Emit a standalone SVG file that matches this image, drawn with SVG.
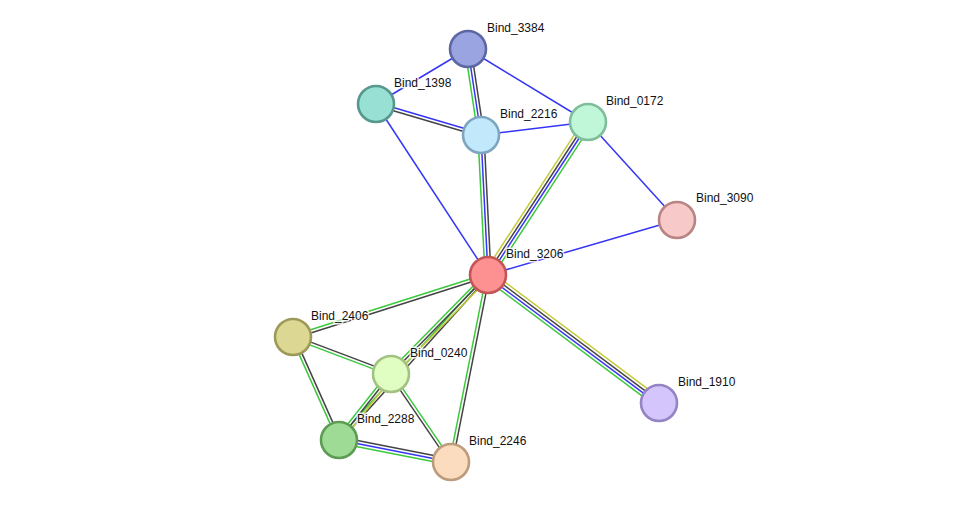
<svg xmlns="http://www.w3.org/2000/svg" width="975" height="508" viewBox="0 0 975 508">
<style>
line{stroke-width:1.5;fill:none}
.b{stroke:#3535f5}
.g{stroke:#3cc83c}
.k{stroke:#444444}
.y{stroke:#c4ca3a}
circle{stroke-width:2.6}
text{font-family:"Liberation Sans",Arial,sans-serif;font-size:12px;fill:#111;stroke:#ffffff;stroke-width:3;stroke-opacity:0.85;paint-order:stroke;stroke-linejoin:round}
</style>
<rect width="975" height="508" fill="#ffffff"/>
<g id="edges">
<line class="b" x1="468" y1="49" x2="376" y2="104"/>
<line class="g" x1="465" y1="49.45" x2="478" y2="135.45"/>
<line class="b" x1="468" y1="49" x2="481" y2="135"/>
<line class="k" x1="471" y1="48.55" x2="484" y2="134.55"/>
<line class="b" x1="468" y1="49" x2="588" y2="122"/>
<line class="b" x1="376.45" y1="102.5" x2="481.45" y2="133.5"/>
<line class="k" x1="375.55" y1="105.5" x2="480.55" y2="136.5"/>
<line class="b" x1="376" y1="104" x2="488" y2="275"/>
<line class="b" x1="481" y1="135" x2="588" y2="122"/>
<line class="g" x1="478" y1="135.15" x2="485" y2="275.15"/>
<line class="b" x1="481" y1="135" x2="488" y2="275"/>
<line class="k" x1="484" y1="134.85" x2="491" y2="274.85"/>
<line class="y" x1="584.25" y1="119.6" x2="484.25" y2="272.6"/>
<line class="k" x1="586.8" y1="121.25" x2="486.8" y2="274.25"/>
<line class="b" x1="589.2" y1="122.75" x2="489.2" y2="275.75"/>
<line class="g" x1="591.75" y1="124.4" x2="491.75" y2="277.4"/>
<line class="b" x1="588" y1="122" x2="677" y2="220"/>
<line class="b" x1="677" y1="220" x2="488" y2="275"/>
<line class="y" x1="490.7" y1="271.4" x2="661.7" y2="399.4"/>
<line class="k" x1="488.9" y1="273.8" x2="659.9" y2="401.8"/>
<line class="b" x1="487.1" y1="276.2" x2="658.1" y2="404.2"/>
<line class="g" x1="485.3" y1="278.6" x2="656.3" y2="406.6"/>
<line class="g" x1="487.55" y1="273.5" x2="292.55" y2="335.5"/>
<line class="k" x1="488.45" y1="276.5" x2="293.45" y2="338.5"/>
<line class="g" x1="486.95" y1="273.95" x2="337.95" y2="438.95"/>
<line class="k" x1="489.05" y1="276.05" x2="340.05" y2="441.05"/>
<line class="g" x1="485.9" y1="272.9" x2="388.9" y2="371.9"/>
<line class="k" x1="488" y1="275" x2="391" y2="374"/>
<line class="y" x1="490.1" y1="277.1" x2="393.1" y2="376.1"/>
<line class="g" x1="388.6" y1="372.2" x2="336.6" y2="438.2"/>
<line class="k" x1="391" y1="374" x2="339" y2="440"/>
<line class="y" x1="393.4" y1="375.8" x2="341.4" y2="441.8"/>
<line class="g" x1="486.5" y1="274.7" x2="449.5" y2="461.7"/>
<line class="k" x1="489.5" y1="275.3" x2="452.5" y2="462.3"/>
<line class="k" x1="293.6" y1="335.65" x2="391.6" y2="372.65"/>
<line class="g" x1="292.4" y1="338.35" x2="390.4" y2="375.35"/>
<line class="g" x1="291.65" y1="337.6" x2="337.65" y2="440.6"/>
<line class="k" x1="294.35" y1="336.4" x2="340.35" y2="439.4"/>
<line class="g" x1="392.2" y1="373.1" x2="452.2" y2="461.1"/>
<line class="k" x1="389.8" y1="374.9" x2="449.8" y2="462.9"/>
<line class="k" x1="339.6" y1="437" x2="451.6" y2="459"/>
<line class="b" x1="339" y1="440" x2="451" y2="462"/>
<line class="g" x1="338.4" y1="443" x2="450.4" y2="465"/>
</g>
<g id="Bind_3384"><circle cx="468" cy="49" r="18" fill="#9aa4e0" stroke="#5c67a4"/><text x="487" y="32">Bind_3384</text></g>
<g id="Bind_1398"><circle cx="376" cy="104" r="18" fill="#98dfd4" stroke="#56978e"/><text x="394" y="87">Bind_1398</text></g>
<g id="Bind_2216"><circle cx="481" cy="135" r="18" fill="#c2e8fb" stroke="#7ea6c0"/><text x="500" y="118">Bind_2216</text></g>
<g id="Bind_0172"><circle cx="588" cy="122" r="18" fill="#c0f7d8" stroke="#7fbe9a"/><text x="606" y="105">Bind_0172</text></g>
<g id="Bind_3090"><circle cx="677" cy="220" r="18" fill="#f7c9c9" stroke="#b88484"/><text x="696" y="202">Bind_3090</text></g>
<g id="Bind_3206"><circle cx="488" cy="275" r="18" fill="#fd9090" stroke="#c25656"/><text x="506" y="258">Bind_3206</text></g>
<g id="Bind_2406"><circle cx="293" cy="337" r="18" fill="#dcd894" stroke="#9c9a58"/><text x="311" y="320">Bind_2406</text></g>
<g id="Bind_0240"><circle cx="391" cy="374" r="18" fill="#e0fdc2" stroke="#a2c282"/><text x="410" y="357">Bind_0240</text></g>
<g id="Bind_1910"><circle cx="659" cy="403" r="18" fill="#d4c6fc" stroke="#9584c4"/><text x="678" y="386">Bind_1910</text></g>
<g id="Bind_2288"><circle cx="339" cy="440" r="18" fill="#9edc96" stroke="#5e9c56"/><text x="357" y="423">Bind_2288</text></g>
<g id="Bind_2246"><circle cx="451" cy="462" r="18" fill="#fcdcbe" stroke="#bc9c7c"/><text x="469" y="445">Bind_2246</text></g>
</svg>
